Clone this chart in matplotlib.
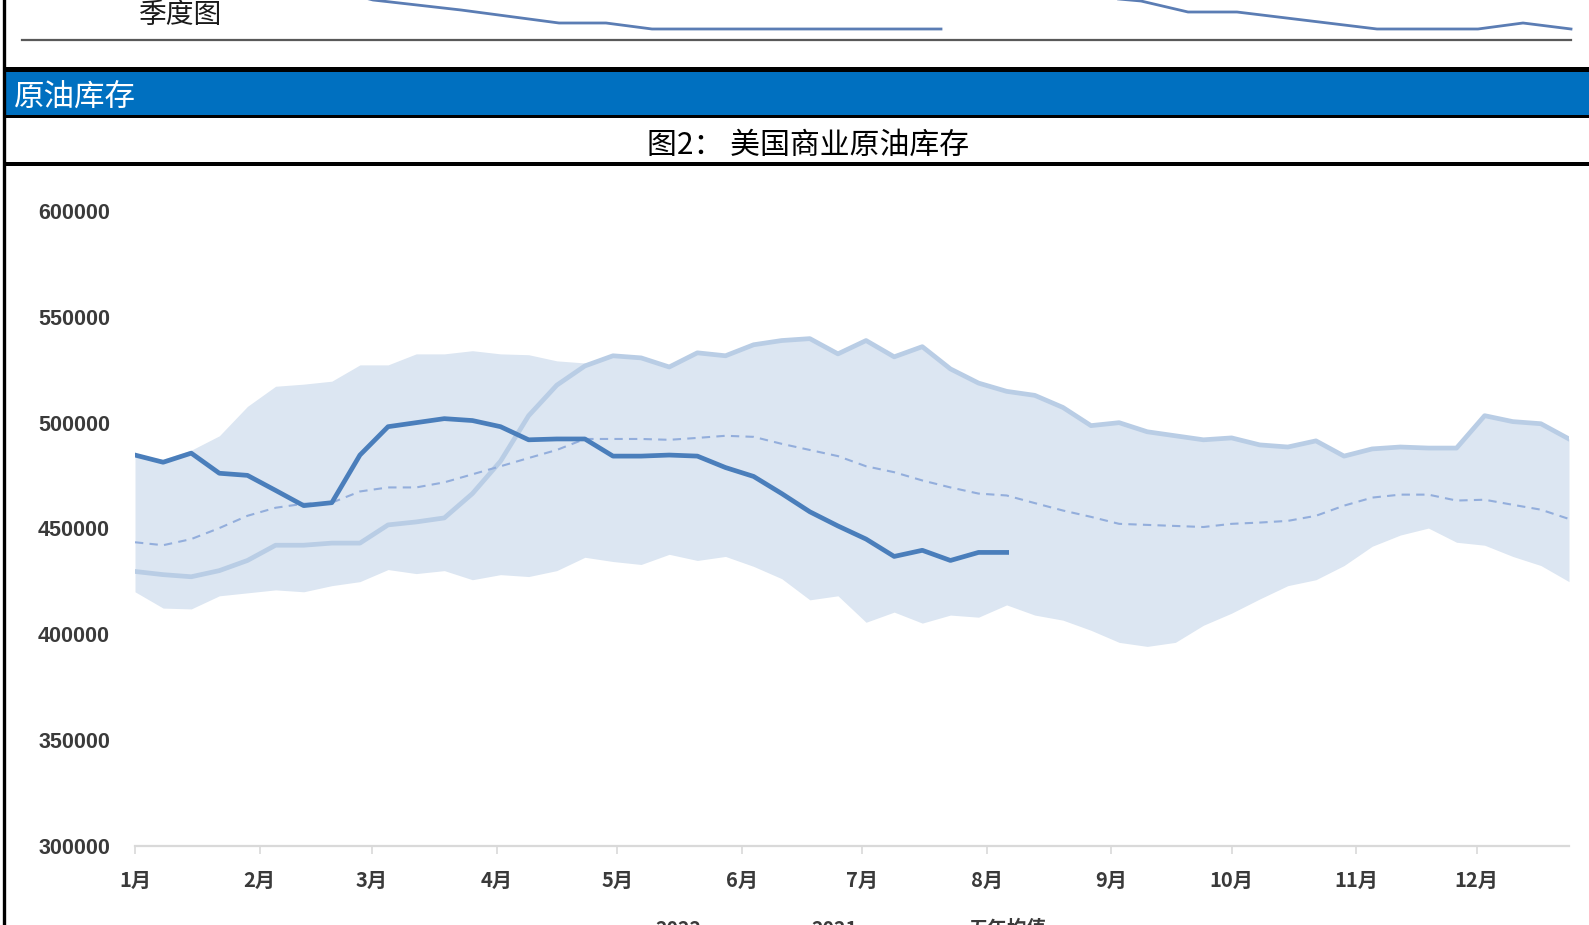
import numpy as np
import pandas as pd
import matplotlib
matplotlib.use('Agg')
import matplotlib.pyplot as plt
import matplotlib.dates as mdates
from matplotlib.ticker import FuncFormatter, MultipleLocator
from matplotlib.patches import Rectangle

plt.rcParams['font.family'] = ['Noto Sans CJK SC', 'DejaVu Sans']

# ---------------- data ----------------
weeks = pd.date_range('2022-01-01', periods=52, freq='7D')

stock_2022 = [484700, 481300, 485600, 476100, 475100, 468000, 460800, 462200, 484700, 498100,
              500000, 501900, 501000, 498100, 491900, 492300, 492300, 484200, 484200, 484700,
              484200, 478800, 474600, 466500, 457900, 451200, 445000, 436800, 439700, 434900,
              438700, 438700]

stock_2021 = [429700, 428200, 427200, 430100, 434900, 442100, 442100, 443100, 443100, 451700,
              453100, 455000, 466500, 481800, 503300, 517700, 526800, 531600, 530600, 526300,
              533000, 531600, 536800, 538800, 539700, 532500, 538800, 531100, 535900, 525400,
              518700, 514800, 512900, 507200, 498600, 500000, 495700, 493800, 491900, 492800,
              489500, 488500, 491400, 484200, 487600, 488500, 488000, 488000, 503300, 500500,
              499500, 492300]

avg_5y = [443500, 442100, 445000, 450200, 456000, 459800, 461700, 462200, 467500, 469400,
          469400, 471800, 475600, 479400, 483300, 487100, 492300, 492300, 492300, 491900,
          492800, 493800, 493300, 490000, 487100, 484200, 479400, 476600, 472700, 469400,
          466500, 465600, 462000, 458500, 455500, 452200, 451700, 451200, 450700, 452200,
          452800, 453600, 456000, 460800, 464600, 466000, 466000, 463200, 463600, 461200,
          458900, 454500]

range_hi = [484700, 482800, 487000, 493800, 507700, 517200, 518200, 519600, 527300, 527300,
            532500, 532500, 534000, 532500, 532100, 529200, 528200, 531600, 530600, 526300,
            533000, 531600, 536800, 538800, 539700, 532500, 538800, 531100, 535900, 525400,
            518700, 514800, 512900, 507200, 498600, 500000, 495700, 493800, 491900, 492800,
            489500, 488500, 491400, 484200, 487600, 488500, 488000, 488000, 503300, 500500,
            499500, 492300]

range_lo = [420100, 412400, 412000, 418200, 419600, 421000, 420100, 423000, 424900, 430600,
            428700, 430100, 425800, 428200, 427300, 430100, 436400, 434400, 433000, 437800,
            434900, 436800, 432100, 426300, 416300, 418200, 405700, 410500, 405300, 409100,
            408100, 413900, 409100, 406700, 401900, 396200, 394300, 396200, 404300, 410000,
            416700, 423000, 425800, 432500, 441600, 446900, 450200, 443500, 442100, 436800,
            432500, 424900]

legend_labels = ['2022', '2021', '五年均值']
header_text = '原油库存'
title_text = '图2： 美国商业原油库存'
prev_chart_title = '季度图'

# fragment of the previous (cut-off) chart at the top of the page, page pixel units
prev_a_x = [350, 373, 461, 559, 606, 652, 941]
prev_a_y = [-6, 0, 10, 23, 23, 29, 29]
prev_b_x = [1085, 1141, 1188, 1237, 1377, 1478, 1523, 1571]
prev_b_y = [-4, 1, 12, 12, 29, 29, 23, 29]

# ---------------- figure ----------------
W, H = 1589, 925
fig = plt.figure(figsize=(W / 100, H / 100), dpi=100)
fig.patch.set_facecolor('white')

# page decoration layer (pixel coordinates)
deco = fig.add_axes([0, 0, 1, 1])
deco.set_xlim(0, W)
deco.set_ylim(H, 0)
deco.axis('off')
deco.plot(prev_a_x, prev_a_y, color='#5b7db4', lw=2.0)
deco.plot(prev_b_x, prev_b_y, color='#5b7db4', lw=2.0)
deco.plot([22, 1571], [40, 40], color='#595959', lw=1.6)
deco.add_patch(Rectangle((3, 67), W, 4.5, color='black', lw=0))
deco.add_patch(Rectangle((3, 71.5), W, 43.5, color='#0070c0', lw=0))
deco.add_patch(Rectangle((3, 114.5), W, 3.5, color='black', lw=0))
deco.add_patch(Rectangle((3, 161.5), W, 4.0, color='black', lw=0))
deco.plot([3.5, 3.5], [0, H], color='black', lw=2.4)

fig.text(139 / W, 1 - 15 / H, prev_chart_title, fontsize=20, color='#1a1a1a',
         ha='left', va='center')
fig.text(14 / W, 1 - 97 / H, header_text, fontsize=22, color='white',
         ha='left', va='center')
fig.text(808 / W, 1 - 145 / H, title_text, fontsize=21.5, color='black',
         ha='center', va='center')

# ---------------- chart ----------------
ax = fig.add_axes([135 / W, 1 - 846 / H, (1569 - 135) / W, (846 - 211) / H])
ax.set_facecolor('none')
ax.fill_between(weeks, range_lo, range_hi, color='#dce6f2', lw=0, zorder=1)
l21, = ax.plot(weeks, stock_2021, color='#b9cde5', lw=3.4, zorder=2)
lavg, = ax.plot(weeks, avg_5y, color='#93aedc', lw=1.5, ls=(0, (4, 3)), zorder=3)
l22, = ax.plot(weeks[:len(stock_2022)], stock_2022, color='#4a7ebb', lw=3.4, zorder=4)

ax.set_ylim(300000, 600000)
ax.yaxis.set_major_locator(MultipleLocator(50000))
ax.yaxis.set_major_formatter(FuncFormatter(lambda v, p: f'{int(v)}'))
ax.set_xlim(weeks[0], weeks[-1])
ax.xaxis.set_major_locator(mdates.MonthLocator())
ax.xaxis.set_major_formatter(FuncFormatter(lambda v, p: f'{mdates.num2date(v).month}月'))

for s in ['top', 'right', 'left']:
    ax.spines[s].set_visible(False)
ax.spines['bottom'].set_color('#d9d9d9')
ax.spines['bottom'].set_linewidth(1.6)

ax.tick_params(axis='y', length=0, pad=18)
ax.tick_params(axis='x', length=6, width=1.2, color='#d9d9d9', pad=11.5, direction='out')
for lab in ax.get_yticklabels():
    lab.set_family(['Liberation Sans', 'DejaVu Sans'])
    lab.set_fontweight('bold')
    lab.set_fontsize(15.5)
    lab.set_color('#3a3a3a')
for lab in ax.get_xticklabels():
    lab.set_family(['Noto Sans CJK SC', 'DejaVu Sans'])
    lab.set_fontweight('bold')
    lab.set_fontsize(14.5)
    lab.set_color('#3a3a3a')

fig.legend(handles=[l22, l21, lavg], labels=legend_labels, loc='upper left',
           bbox_to_anchor=(581 / W, 1 - 920 / H), ncol=3, frameon=False,
           borderpad=0, borderaxespad=0, handlelength=3, handletextpad=0.8,
           columnspacing=1.9,
           prop=dict(family=['Noto Sans CJK SC', 'DejaVu Sans'], weight='bold', size=14),
           labelcolor='#3a3a3a')

fig.savefig('out.png', dpi=100, facecolor='white')
